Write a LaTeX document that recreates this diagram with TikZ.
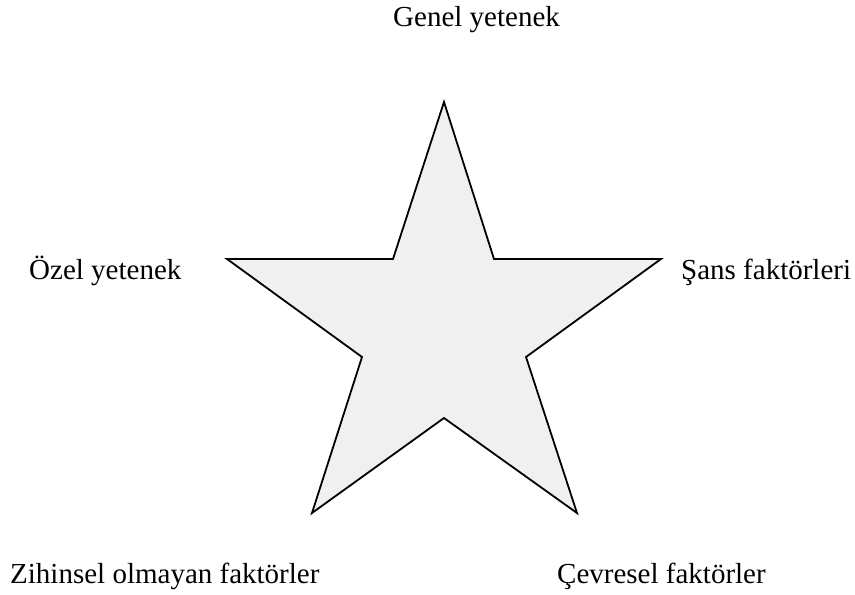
\documentclass[tikz,border=0pt]{standalone}
\usepackage{fontspec}
\setmainfont{Liberation Serif}
\definecolor{starfill}{HTML}{F0F0F0}
\begin{document}
\begin{tikzpicture}[x=1pt,y=-1pt,
  lbl/.style={inner sep=0pt,anchor=base west,font=\fontsize{29}{34}\selectfont},
  starshape/.style={draw=black,fill=starfill,line width=1.8pt,line join=miter}]
\useasboundingbox (0,0) rectangle (855,595);
\coordinate (p1) at (444,102);
\coordinate (p2) at (494,259);
\coordinate (p3) at (661,259);
\coordinate (p4) at (526,357);
\coordinate (p5) at (577,513);
\coordinate (p6) at (444,418);
\coordinate (p7) at (312,513);
\coordinate (p8) at (362,357);
\coordinate (p9) at (227,259);
\coordinate (p10) at (393,259);
\draw[starshape] (p1) -- (p2) -- (p3) -- (p4) -- (p5) -- (p6) -- (p7) -- (p8) -- (p9) -- (p10) -- cycle;
\node[lbl] (genel) at (393,26) {Genel yetenek};
\node[lbl] (ozel) at (29,279) {Özel yetenek};
\node[lbl] (sans) at (681,279) {Şans faktörleri};
\node[lbl] (zihin) at (10,583) {Zihinsel olmayan faktörler};
\node[lbl] (cevre) at (557,583) {Çevresel faktörler};
\end{tikzpicture}
\end{document}
